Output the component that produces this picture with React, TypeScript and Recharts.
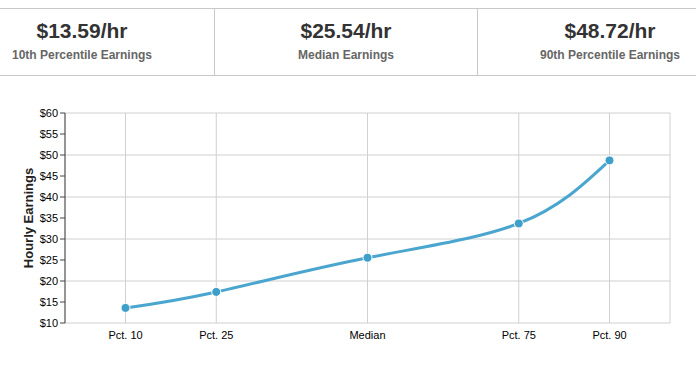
import React from 'react';
import { LineChart, Line, XAxis, YAxis, CartesianGrid, Label } from 'recharts';

const percentiles = [10, 25, 50, 75, 90];
const percentileLabels = ['Pct. 10', 'Pct. 25', 'Median', 'Pct. 75', 'Pct. 90'];
const hourlyEarnings = [13.59, 17.4, 25.54, 33.7, 48.72];
const yTicks = [10, 15, 20, 25, 30, 35, 40, 45, 50, 55, 60];
const statValues = ['$13.59/hr', '$25.54/hr', '$48.72/hr'];
const statLabels = ['10th Percentile Earnings', 'Median Earnings', '90th Percentile Earnings'];

const data = percentiles.map((p, i) => ({ p, v: hourlyEarnings[i] }));
const labelFor = (p: number) => percentileLabels[percentiles.indexOf(p)] ?? '';

const FONT = '"Liberation Sans", Arial, sans-serif';
const BORDER = '#c8c8c8';

export default function App() {
  return (
    <div
      style={{
        position: 'absolute',
        left: 0,
        top: 0,
        width: 696,
        height: 374,
        overflow: 'hidden',
        background: '#fff',
        fontFamily: FONT,
      }}
    >
      <div style={{ position: 'absolute', left: 0, top: 8, width: 696, height: 1, background: BORDER }} />
      <div style={{ position: 'absolute', left: 0, top: 75, width: 696, height: 1, background: BORDER }} />
      <div style={{ position: 'absolute', left: 214, top: 8, width: 1, height: 68, background: BORDER }} />
      <div style={{ position: 'absolute', left: 477, top: 8, width: 1, height: 68, background: BORDER }} />
      {statValues.map((s, i) => (
        <div key={i} style={{ position: 'absolute', left: -50 + i * 264, top: 0, width: 264, height: 76 }}>
          <div
            style={{
              position: 'absolute',
              left: 0,
              width: 264,
              top: 20,
              textAlign: 'center',
              fontSize: 21,
              lineHeight: '21px',
              fontWeight: 'bold',
              color: '#333',
            }}
          >
            {s}
          </div>
          <div
            style={{
              position: 'absolute',
              left: 0,
              width: 264,
              top: 49,
              textAlign: 'center',
              fontSize: 12,
              lineHeight: '12px',
              fontWeight: 'bold',
              color: '#666',
            }}
          >
            {statLabels[i]}
          </div>
        </div>
      ))}
      <div style={{ position: 'absolute', left: 0, top: 0 }}>
        <LineChart
          width={696}
          height={374}
          data={data}
          margin={{ top: 113, right: 26, bottom: 21, left: 0 }}
        >
          <CartesianGrid stroke="#d0d0d0" strokeWidth={1} />
          <XAxis
            dataKey="p"
            type="number"
            domain={[0, 100]}
            ticks={percentiles}
            tickFormatter={labelFor}
            axisLine={false}
            tickLine={false}
            tickSize={0}
            tickMargin={8}
            height={30}
            tick={{ fill: '#000', fontSize: 11, fontFamily: FONT }}
          />
          <YAxis
            type="number"
            domain={[10, 60]}
            ticks={yTicks}
            tickFormatter={(v: number) => `$${v}`}
            width={65}
            axisLine={{ stroke: '#444' }}
            tickLine={{ stroke: '#444' }}
            tickSize={5}
            tickMargin={2}
            tick={{ fill: '#000', fontSize: 11, fontFamily: FONT }}
          >
            <Label
              value="Hourly Earnings"
              angle={-90}
              position="insideLeft"
              offset={28}
              style={{ textAnchor: 'middle', fontWeight: 'bold', fontSize: 13, fill: '#222', fontFamily: FONT }}
            />
          </YAxis>
          <Line
            type="natural"
            dataKey="v"
            stroke="#4aa6cf"
            strokeWidth={3}
            dot={{ r: 4.5, fill: '#3f9fcb', stroke: '#ffffff', strokeWidth: 1 }}
            isAnimationActive={false}
          />
        </LineChart>
      </div>
    </div>
  );
}
